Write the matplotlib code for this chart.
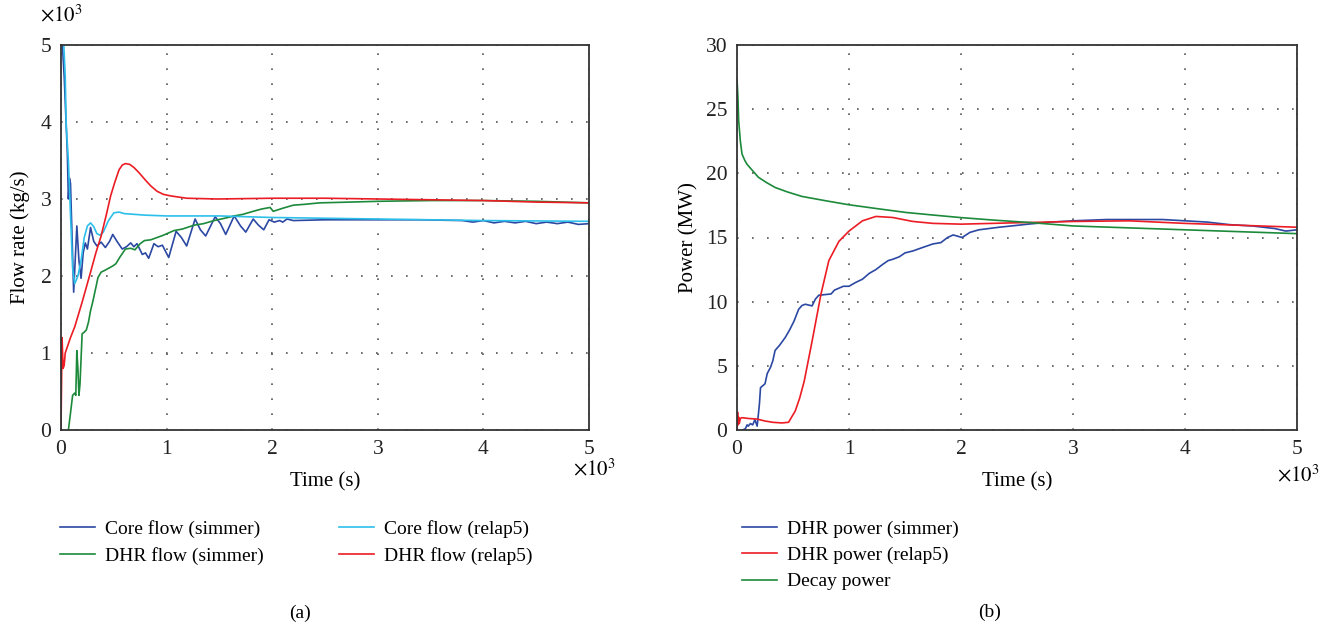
import matplotlib
matplotlib.use("Agg")
import matplotlib.pyplot as plt

plt.rcParams['font.family'] = ['Liberation Serif', 'DejaVu Serif']
plt.rcParams['mathtext.fontset'] = 'stix'

# ---- panel (a): flow rate, time in 1e3 s, flow in 1e3 kg/s ----
core_sim_t = [0, 0.03, 0.06, 0.07, 0.08, 0.09, 0.12, 0.15, 0.17, 0.19, 0.21, 0.23, 0.25,
              0.28, 0.31, 0.34, 0.38, 0.42, 0.46, 0.49, 0.53, 0.58, 0.62, 0.66, 0.69,
              0.72, 0.77, 0.80, 0.83, 0.88, 0.92, 0.96, 1.02, 1.09, 1.14, 1.19, 1.27,
              1.32, 1.37, 1.46, 1.51, 1.56, 1.64, 1.70, 1.75, 1.82, 1.87, 1.92, 1.97,
              2.02, 2.07, 2.10, 2.14, 2.2, 2.5, 3.0, 3.4, 3.8, 3.9, 4.0, 4.1, 4.2,
              4.3, 4.4, 4.5, 4.6, 4.7, 4.8, 4.9, 5.0]
core_sim_v = [5.3, 4.6, 3.6, 3.0, 3.27, 3.2, 1.79, 2.65, 2.2, 1.97, 2.3, 2.43, 2.35,
              2.63, 2.45, 2.39, 2.44, 2.37, 2.45, 2.54, 2.45, 2.35, 2.38, 2.43, 2.38,
              2.42, 2.28, 2.30, 2.23, 2.42, 2.38, 2.40, 2.24, 2.58, 2.50, 2.39, 2.74,
              2.60, 2.52, 2.77, 2.68, 2.54, 2.78, 2.65, 2.57, 2.74, 2.66, 2.60, 2.73,
              2.70, 2.72, 2.70, 2.74, 2.72, 2.73, 2.73, 2.73, 2.72, 2.70, 2.72, 2.69, 2.71,
              2.69, 2.71, 2.68, 2.70, 2.68, 2.70, 2.67, 2.68]

core_rel_t = [0, 0.02, 0.04, 0.05, 0.07, 0.09, 0.11, 0.13, 0.16, 0.19, 0.22, 0.25, 0.28,
              0.31, 0.34, 0.37, 0.40, 0.45, 0.50, 0.55, 0.60, 0.80, 1.0, 1.5, 2.0,
              3.0, 4.0, 5.0]
core_rel_v = [5.3, 5.2, 4.6, 3.94, 3.5, 2.8, 2.1, 1.9, 2.0, 2.2, 2.5, 2.65, 2.69,
              2.64, 2.55, 2.53, 2.57, 2.72, 2.82, 2.83, 2.81, 2.79, 2.78, 2.78, 2.76,
              2.74, 2.72, 2.71]

dhr_sim_t = [0.07, 0.09, 0.11, 0.13, 0.14, 0.15, 0.16, 0.17, 0.18, 0.20, 0.22, 0.24,
             0.26, 0.28, 0.30, 0.33, 0.35, 0.38, 0.41, 0.45, 0.49, 0.52, 0.56, 0.61,
             0.66, 0.70, 0.75, 0.79, 0.85, 0.91, 0.97, 1.07, 1.15, 1.26, 1.35, 1.45,
             1.55, 1.64, 1.72, 1.82, 1.90, 1.98, 2.01, 2.10, 2.20, 2.30, 2.45, 2.74,
             3.0, 3.5, 4.0, 4.5, 5.0]
dhr_sim_v = [0.0, 0.22, 0.45, 0.48, 0.45, 1.03, 0.8, 0.45, 0.6, 1.25, 1.27, 1.30,
             1.40, 1.55, 1.66, 1.85, 1.98, 2.05, 2.07, 2.10, 2.13, 2.16, 2.25, 2.35,
             2.36, 2.34, 2.42, 2.46, 2.47, 2.50, 2.53, 2.59, 2.61, 2.66, 2.68, 2.72,
             2.75, 2.78, 2.80, 2.84, 2.87, 2.89, 2.84, 2.88, 2.92, 2.93, 2.95, 2.96,
             2.97, 2.98, 2.98, 2.97, 2.95]

dhr_rel_t = [0, 0.01, 0.02, 0.03, 0.04, 0.06, 0.09, 0.13, 0.20, 0.28, 0.33, 0.38, 0.43,
             0.47, 0.51, 0.55, 0.58, 0.61, 0.65, 0.69, 0.74, 0.79, 0.85, 0.91, 0.97,
             1.04, 1.19, 1.48, 2.0, 2.5, 3.0, 3.5, 4.0, 4.5, 5.0]
dhr_rel_v = [0.0, 1.2, 0.8, 0.84, 1.0, 1.08, 1.2, 1.34, 1.66, 2.05, 2.30, 2.52, 2.80,
             3.04, 3.22, 3.38, 3.44, 3.46, 3.45, 3.41, 3.34, 3.26, 3.17, 3.10, 3.06,
             3.04, 3.01, 3.00, 3.01, 3.01, 3.00, 2.99, 2.98, 2.96, 2.95]

# ---- panel (b): power in MW ----
pw_sim_t = [0.05, 0.075, 0.09, 0.10, 0.12, 0.14, 0.16, 0.18, 0.20, 0.21, 0.25, 0.27,
            0.30, 0.32, 0.34, 0.38, 0.43, 0.47, 0.51, 0.55, 0.58, 0.61, 0.67, 0.70,
            0.73, 0.84, 0.87, 0.91, 0.95, 1.0, 1.06, 1.12, 1.18, 1.24, 1.30, 1.35,
            1.39, 1.45, 1.50, 1.57, 1.65, 1.75, 1.82, 1.88, 1.93, 1.97, 2.01, 2.08,
            2.16, 2.25, 2.34, 2.45, 2.61, 2.80, 3.0, 3.3, 3.6, 3.8, 4.0, 4.2, 4.4,
            4.6, 4.8, 4.9, 5.0]
pw_sim_v = [0.0, 0.1, 0.4, 0.3, 0.5, 0.4, 0.8, 0.3, 2.0, 3.3, 3.6, 4.4,
            4.9, 5.4, 6.2, 6.6, 7.2, 7.8, 8.5, 9.4, 9.7, 9.8, 9.67, 10.2,
            10.5, 10.6, 10.9, 11.05, 11.2, 11.2, 11.5, 11.75, 12.2, 12.5, 12.9, 13.2,
            13.3, 13.5, 13.8, 13.95, 14.2, 14.5, 14.6, 15.0, 15.2, 15.1, 15.0, 15.4,
            15.6, 15.7, 15.8, 15.9, 16.05, 16.2, 16.3, 16.4, 16.4, 16.4, 16.3, 16.2, 16.0,
            15.9, 15.7, 15.5, 15.6]

pw_rel_t = [0, 0.005, 0.01, 0.015, 0.02, 0.03, 0.045, 0.10, 0.18, 0.25, 0.32, 0.40,
            0.46, 0.52, 0.56, 0.60, 0.67, 0.75, 0.82, 0.91, 1.0, 1.12, 1.24, 1.39,
            1.57, 1.75, 2.0, 2.46, 3.0, 3.5, 4.0, 4.5, 5.0]
pw_rel_v = [0.0, 1.4, 0.4, 1.0, 0.5, 0.9, 0.96, 0.9, 0.85, 0.7, 0.6, 0.55,
            0.6, 1.48, 2.5, 3.8, 6.9, 10.6, 13.2, 14.7, 15.5, 16.3, 16.64, 16.56,
            16.25, 16.1, 16.04, 16.14, 16.25, 16.3, 16.1, 15.95, 15.8]

decay_t = [0, 0.008, 0.015, 0.03, 0.045, 0.07, 0.09, 0.14, 0.19, 0.26, 0.34, 0.45,
           0.58, 0.8, 1.0, 1.25, 1.51, 1.75, 2.0, 2.3, 2.61, 3.0, 3.5, 4.0, 4.5, 5.0]
decay_v = [27.35, 26.0, 24.1, 22.5, 21.5, 21.0, 20.7, 20.2, 19.7, 19.3, 18.9, 18.55,
           18.2, 17.85, 17.55, 17.25, 16.95, 16.75, 16.55, 16.35, 16.17, 15.9, 15.75,
           15.6, 15.45, 15.3]

c_blue = '#2b48a3'
c_cyan = '#2cbfea'
c_green = '#1c8a3a'
c_red = '#ec1c24'

W, H = 1335, 631
fig = plt.figure(figsize=(W / 100, H / 100), dpi=100)


def estilo_ejes(ax):
    for s in ax.spines.values():
        s.set_color('#333333')
        s.set_linewidth(1.3)
    ax.tick_params(length=0, labelsize=15.5, pad=7, colors='#222222')
    ax.grid(True, color='#555555', linestyle=(0, (1, 8)), linewidth=1.2)


leg_kw = dict(frameon=False, fontsize=14, handlelength=1.8, labelspacing=0.45,
              handletextpad=0.5, borderaxespad=0, borderpad=0)

ax1 = fig.add_axes([61 / W, 1 - 430 / H, 528 / W, 385 / H])
ax1.plot(core_sim_t, core_sim_v, color=c_blue, lw=1.2, label='Core flow (simmer)')
ax1.plot(dhr_sim_t, dhr_sim_v, color=c_green, lw=1.2, label='DHR flow (simmer)')
ax1.plot(core_rel_t, core_rel_v, color=c_cyan, lw=1.2, label='Core flow (relap5)')
ax1.plot(dhr_rel_t, dhr_rel_v, color=c_red, lw=1.2, label='DHR flow (relap5)')
ax1.set_xlim(0, 5)
ax1.set_ylim(0, 5)
estilo_ejes(ax1)
ax1.set_xlabel('Time (s)', fontsize=15)
ax1.set_ylabel('Flow rate (kg/s)', fontsize=15)
ax1.yaxis.set_label_coords(-0.058, 0.5)
ax1.xaxis.set_label_coords(0.5, -0.11)
ax1.legend(loc='upper left', bbox_to_anchor=(60 / W, 1 - 520 / H),
           bbox_transform=fig.transFigure, ncol=2, columnspacing=3.9, **leg_kw)

ax2 = fig.add_axes([737 / W, 1 - 430 / H, 560 / W, 385 / H])
ax2.plot(pw_sim_t, pw_sim_v, color=c_blue, lw=1.2, label='DHR power (simmer)')
ax2.plot(pw_rel_t, pw_rel_v, color=c_red, lw=1.2, label='DHR power (relap5)')
ax2.plot(decay_t, decay_v, color=c_green, lw=1.2, label='Decay power')
ax2.set_xlim(0, 5)
ax2.set_ylim(0, 30)
estilo_ejes(ax2)
ax2.set_xlabel('Time (s)', fontsize=15)
ax2.set_ylabel('Power (MW)', fontsize=15)
ax2.yaxis.set_label_coords(-0.068, 0.5)
ax2.xaxis.set_label_coords(0.5, -0.11)
ax2.legend(loc='upper left', bbox_to_anchor=(742 / W, 1 - 520 / H),
           bbox_transform=fig.transFigure, **leg_kw)

# multiplicadores y rótulos (a) (b)
fig.text(40 / W, 1 - 16 / H, r'$\times10^3$', fontsize=15, ha='left', va='center')
fig.text(594 / W, 1 - 470 / H, r'$\times10^3$', fontsize=15, ha='center', va='center')
fig.text(1298 / W, 1 - 476 / H, r'$\times10^3$', fontsize=15, ha='center', va='center')
fig.text(300 / W, 1 - 613 / H, '(a)', fontsize=14, ha='center', va='center')
fig.text(990 / W, 1 - 612 / H, '(b)', fontsize=14, ha='center', va='center')

fig.savefig('out.png', dpi=100, facecolor='white')
